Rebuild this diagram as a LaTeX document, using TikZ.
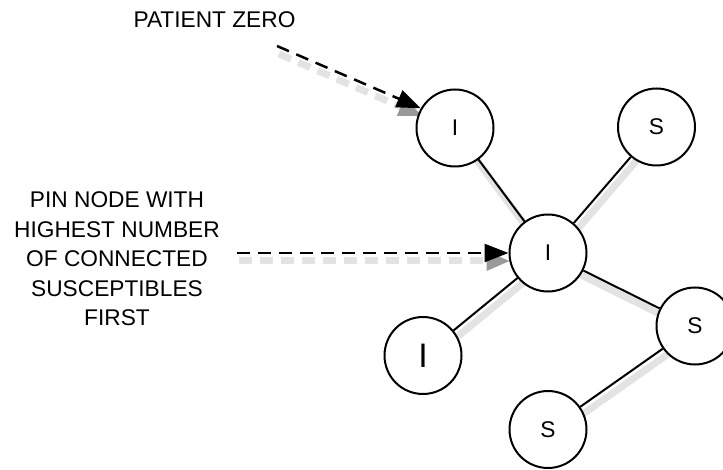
\documentclass[tikz,border=0pt]{standalone}
\usepackage{fontspec}
\setmainfont{Liberation Sans}
\usetikzlibrary{arrows.meta}
\pgfdeclarelayer{shadowlayer}
\pgfsetlayers{shadowlayer,main}
\begin{document}
\begin{tikzpicture}[x=1pt,y=-1pt,
  agent/.style={circle, draw=black, line width=2pt, fill=white,
    minimum size=77pt, inner sep=0pt, font=\fontsize{22.7}{27}\selectfont},
  link/.style={draw=black, line width=2pt},
  linkshade/.style={draw=black!11, line width=7pt},
  pointer/.style={draw=black, line width=2.5pt, dash pattern=on 13pt off 8pt,
    -{Triangle[length=24pt,width=18pt]}},
  pointershade/.style={draw=black!11, line width=7pt, dash pattern=on 13pt off 8pt,
    -{Triangle[length=24pt,width=18pt,color=black!40]}},
  caption/.style={font=\fontsize{22.7}{29.6}\selectfont, align=center, inner sep=0pt}]
\useasboundingbox (0,0) rectangle (723,470);
\clip (0,0) rectangle (723,470);

% contact network
\node[agent] (topI)   at (455,128)   {I};
\node[agent] (topS)   at (656.5,127) {S};
\node[agent] (midI)   at (548,253)   {I};
\node[agent] (rightS) at (695,326)   {S};
\node[agent, font=\fontsize{34}{40}\selectfont] (botI) at (423,355.5) {I};
\node[agent] (botS)   at (548,429.5) {S};

\draw[link] (midI) -- (topI);
\draw[link] (midI) -- (topS);
\draw[link] (midI) -- (botI);
\draw[link] (midI) -- (rightS);
\draw[link] (rightS) -- (botS);

% annotations (base anchor sits on the last line)
\node[caption, anchor=base] (tagZero) at (214.5,28) {PATIENT ZERO};
\node[caption, anchor=base] (tagPin) at (117,326)
  {PIN NODE WITH\\HIGHEST NUMBER\\OF CONNECTED\\SUSCEPTIBLES\\FIRST};

\coordinate (fromZero) at (277,46);
\coordinate (fromPin) at (237,253);
\draw[pointer] (fromZero) -- (topI.150);
\draw[pointer] (fromPin) -- (midI.west);

% soft drop shadows under lines and arrows
\begin{pgfonlayer}{shadowlayer}
  \foreach \a/\b in {midI/topI, midI/topS, midI/botI, midI/rightS, rightS/botS}
    \draw[linkshade] ([shift={(3,7)}]\a.center) -- ([shift={(3,7)}]\b.center);
  \draw[pointershade] ([shift={(2,8)}]fromZero) -- ([shift={(2,8)}]topI.150);
  \draw[pointershade] ([shift={(2,8)}]fromPin) -- ([shift={(2,8)}]midI.west);
\end{pgfonlayer}
\end{tikzpicture}
\end{document}
